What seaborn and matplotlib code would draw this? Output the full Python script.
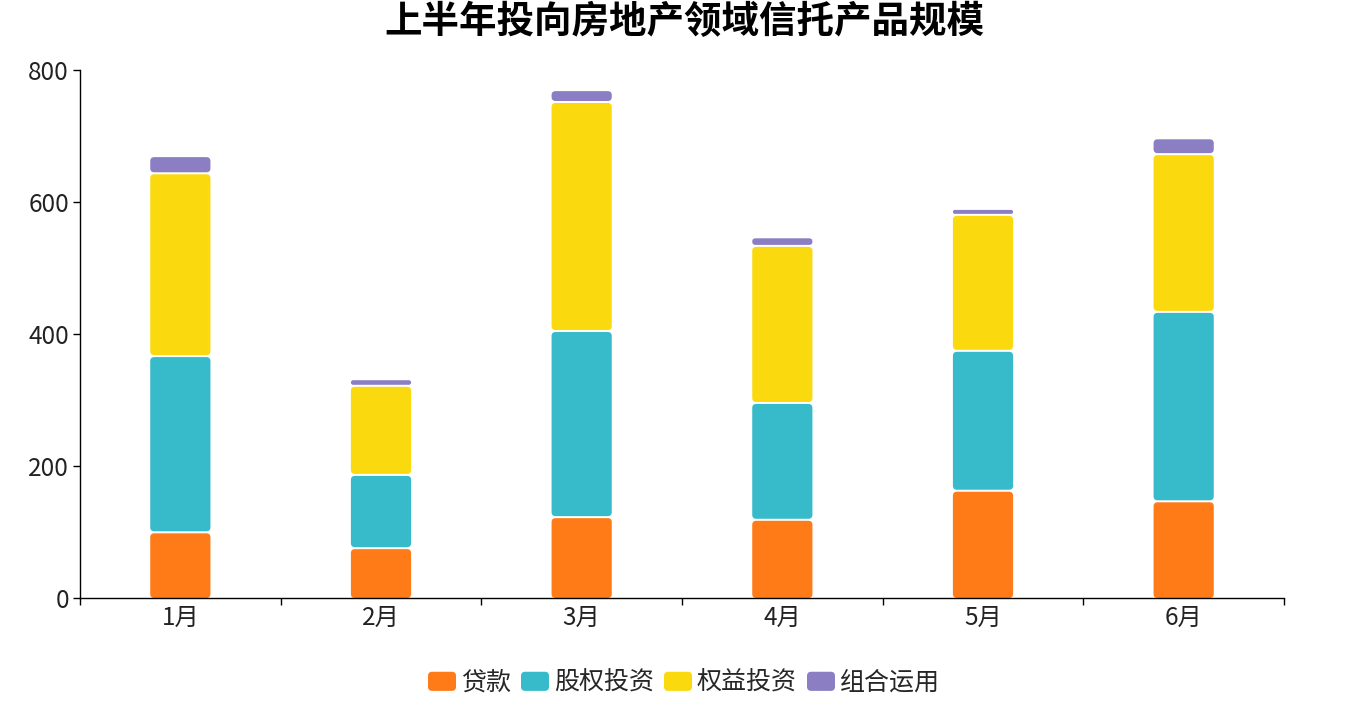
import matplotlib
matplotlib.use("Agg")
import matplotlib.pyplot as plt
import seaborn as sns
import pandas as pd
import numpy as np
from matplotlib.patches import FancyBboxPatch, Patch
from matplotlib.legend_handler import HandlerPatch

# ---------------- data ----------------
months = ["1月", "2月", "3月", "4月", "5月", "6月"]
series_names = ["贷款", "股权投资", "权益投资", "组合运用"]
loan = [98, 74, 121, 117, 161, 145]
equity_inv = [267, 111, 282, 177, 212, 287]
rights_inv = [277, 135, 347, 238, 206, 239]
combo = [26, 10, 18, 13, 9, 24]
colors = ["#FE7B17", "#37BBCA", "#FADA0E", "#8C7EC2"]
title = "上半年投向房地产领域信托产品规模"
y_ticks = [0, 200, 400, 600, 800]

# ---------------- style ----------------
sns.set_theme(style="white")
plt.rcParams['font.family'] = ['Noto Sans CJK SC', 'DejaVu Sans']

W, H = 1368, 701
fig = plt.figure(figsize=(W / 100, H / 100), dpi=100)
ax_l, ax_r, ax_t, ax_b = 80, 1284, 70, 598
ax = fig.add_axes([ax_l / W, 1 - ax_b / H, (ax_r - ax_l) / W, (ax_b - ax_t) / H])

ax.set_xlim(-0.5, len(months) - 0.5)
ax.set_ylim(0, 800)

# aspect for rounded corners (y data units per x data unit, in pixels)
ux = (len(months)) / (ax_r - ax_l)
uy = 800 / (ax_b - ax_t)
aspect = uy / ux
r_px = 4
r_x = r_px * ux
gap = 2 * uy

values = [loan, equity_inv, rights_inv, combo]
cum = np.cumsum(np.array(values, dtype=float), axis=0)

for i, name in enumerate(series_names):
    df = pd.DataFrame({"month": months, "total": cum[i]})
    n_before = len(ax.patches)
    sns.barplot(data=df, x="month", y="total", color=colors[i], width=0.3,
                saturation=1, errorbar=None, ax=ax)
    new = list(ax.patches[n_before:])
    for j, p in enumerate(new):
        x, w, top = p.get_x(), p.get_width(), p.get_height()
        p.remove()
        y0 = cum[i - 1][j] + gap if i > 0 else 0
        h = top - y0
        r = min(r_x, w / 2, (h / aspect) / 2)
        fb = FancyBboxPatch((x, y0), w, h,
                            boxstyle=f"round,pad=0,rounding_size={r}",
                            mutation_aspect=aspect,
                            facecolor=colors[i], edgecolor="none", zorder=2)
        ax.add_patch(fb)

ax.set_xlim(-0.5, len(months) - 0.5)
ax.set_ylim(0, 800)
ax.set_xlabel("")
ax.set_ylabel("")

# ticks
ax.set_xticks(range(len(months)))
ax.set_xticklabels(months)
ax.set_xticks(np.arange(-0.5, len(months), 1), minor=True)
ax.tick_params(axis="x", which="major", bottom=True, length=0, pad=5,
               labelsize=17.5, labelcolor="#222222")
ax.tick_params(axis="x", which="minor", bottom=True, length=5, width=1,
               color="black", direction="out")
ax.set_yticks(y_ticks)
ax.tick_params(axis="y", which="major", left=True, length=5, width=1, color="black",
               direction="out", pad=3, labelsize=17.5, labelcolor="#222222")
ax.grid(False)

for s in ["top", "right"]:
    ax.spines[s].set_visible(False)
for s in ["left", "bottom"]:
    ax.spines[s].set_color("black")
    ax.spines[s].set_linewidth(1)

# title
fig.text(0.5, 1 - 22 / H, title, ha="center", va="center", fontsize=27,
         fontweight="bold", color="black")

# legend with rounded handles
def make_round(legend, orig_handle, xdescent, ydescent, width, height, fontsize):
    return FancyBboxPatch((-xdescent, -ydescent), width, height,
                          boxstyle="round,pad=0,rounding_size=3")

handles = [Patch(facecolor=c, edgecolor="none", label=n) for c, n in zip(colors, series_names)]
fig.legend(handles=handles, loc="center", bbox_to_anchor=(0.5, 1 - 683 / H),
           ncol=4, frameon=False, fontsize=18, handlelength=1.12, handleheight=0.8,
           handletextpad=0.2, columnspacing=0.4, borderpad=0,
           handler_map={Patch: HandlerPatch(patch_func=make_round)})

fig.savefig("out.png", dpi=100)
